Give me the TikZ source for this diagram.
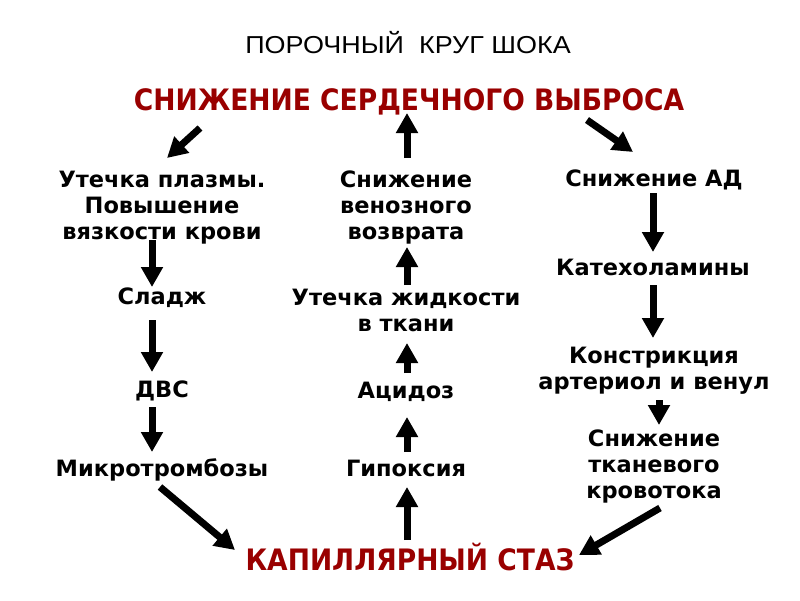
\documentclass[tikz,border=0pt]{standalone}
\usepackage{fontspec}
\setmainfont{DejaVu Sans}
\newfontfamily\headfont{DejaVu Sans}[FakeStretch=0.9]
\newfontfamily\titlefont{Liberation Sans}[FakeStretch=1.1]
\usepackage{xcolor}
\usetikzlibrary{arrows.meta, positioning}
\definecolor{shockred}{RGB}{153,0,0}

\begin{document}
\begin{tikzpicture}[x=1pt, y=-1pt,
    item/.style={font=\bfseries\fontsize{22.5}{26}\selectfont, align=center,
      inner sep=0pt, anchor=base},
    head/.style={font=\headfont\bfseries\fontsize{29.5}{32}\selectfont, text=shockred,
      inner sep=0pt, anchor=base},
    arr/.style={line width=7pt, -{Triangle[length=20pt, width=21pt]}}]
  \useasboundingbox (0,0) rectangle (800,600);
  \node[font=\titlefont\fontsize{24.5}{28}\selectfont, inner sep=0pt, anchor=base]
    (title) at (408,53) {ПОРОЧНЫЙ\ \ КРУГ ШОКА};
  \node[head] (top) at (409,110) {СНИЖЕНИЕ СЕРДЕЧНОГО ВЫБРОСА};
  \node[head] (bottom) at (410,570) {КАПИЛЛЯРНЫЙ СТАЗ};
  % left column (base = last line)
  \node[item] (plasma) at (162,239) {Утечка плазмы.\\Повышение\\вязкости крови};
  \node[item] (sludge) at (162,304) {Сладж};
  \node[item] (dvs) at (162,397) {ДВС};
  \node[item] (micro) at (162,476) {Микротромбозы};
  % middle column
  \node[item] (venous) at (406,239) {Снижение\\венозного\\возврата};
  \node[item] (leak) at (406,331) {Утечка жидкости\\в ткани};
  \node[item] (acid) at (406,398) {Ацидоз};
  \node[item] (hypoxia) at (406,476) {Гипоксия};
  % right column
  \node[item] (pressure) at (654,186) {Снижение АД};
  \node[item] (catechol) at (653,275) {Катехоламины};
  \node[item] (constrict) at (654,389) {Констрикция\\артериол и венул};
  \node[item] (flow) at (654,498) {Снижение\\тканевого\\кровотока};
  % arrows out of the top
  \draw[arr] ([shift={(-209,18)}]top.base) -- ([shift={(5,-81)}]plasma.base);
  \draw[arr] ([shift={(1,-81)}]venous.base) -- ([shift={(-2,3)}]top.base);
  \draw[arr] ([shift={(178,10)}]top.base) -- ([shift={(-21,-34)}]pressure.base);
  % left column
  \draw[arr] ([shift={(-10,1)}]plasma.base) -- ([shift={(-10,-17)}]sludge.base);
  \draw[arr] ([shift={(-10,16)}]sludge.base) -- ([shift={(-10,-25)}]dvs.base);
  \draw[arr] ([shift={(-10,10)}]dvs.base) -- ([shift={(-10,-24)}]micro.base);
  \draw[arr] ([shift={(-2,11)}]micro.base) -- ([shift={(-175,-20)}]bottom.base);
  % middle column
  \draw[arr] ([shift={(-3,-30)}]bottom.base) -- ([shift={(1,11)}]hypoxia.base);
  \draw[arr] ([shift={(1,-24)}]hypoxia.base) -- ([shift={(1,19)}]acid.base);
  \draw[arr] ([shift={(1,-25)}]acid.base) -- ([shift={(1,12)}]leak.base);
  \draw[arr] ([shift={(1,-46)}]leak.base) -- ([shift={(1,8)}]venous.base);
  % right column
  \draw[arr] ([shift={(-1,7)}]pressure.base) -- ([shift={(0,-23)}]catechol.base);
  \draw[arr] ([shift={(0,10)}]catechol.base) -- ([shift={(-1,-51)}]constrict.base);
  \draw[arr] ([shift={(5,11)}]constrict.base) -- ([shift={(5,-73)}]flow.base);
  \draw[arr] ([shift={(6,10)}]flow.base) -- ([shift={(169,-15)}]bottom.base);
\end{tikzpicture}
\end{document}
